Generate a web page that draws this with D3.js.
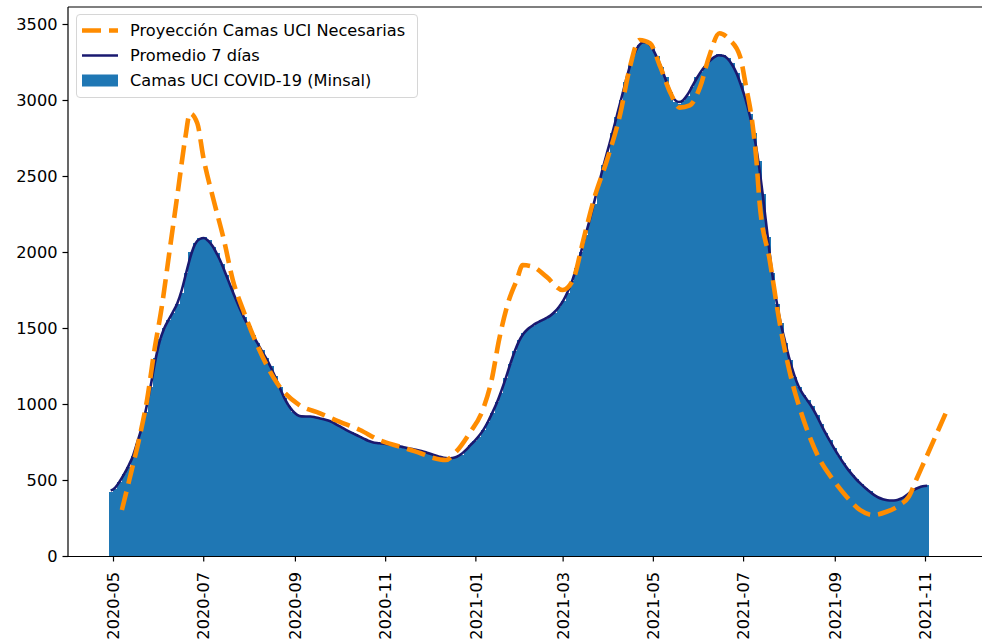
<!DOCTYPE html>
<html>
<head>
<meta charset="utf-8">
<script src="https://cdn.jsdelivr.net/npm/d3@7"></script>
<style>
  html, body { margin: 0; padding: 0; background: #fff; }
  svg { display: block; font-family: "DejaVu Sans", sans-serif; }
</style>
</head>
<body>
<svg id="chart" width="982" height="642"></svg>
<script>
// Camas UCI ocupadas (Minsal): one value per 3-day block, starting 2020-04-28
const barStart = "2020-04-28";
const barStepDays = 3;
const camasUCI = [
  420, 440, 490, 540, 585, 655, 735, 860, 950, 1110,
  1300, 1430, 1500, 1555, 1600, 1660, 1730, 1860, 2000, 2060,
  2095, 2100, 2080, 2035, 1995, 1920, 1850, 1775, 1700, 1630,
  1570, 1510, 1455, 1400, 1355, 1300, 1250, 1185, 1110, 1040,
  990, 950, 925, 912, 918, 922, 912, 905, 900, 894,
  880, 862, 845, 830, 815, 800, 788, 772, 757, 746,
  743, 741, 737, 733, 728, 722, 716, 709, 703, 698,
  693, 682, 673, 662, 652, 646, 640, 643, 652, 665,
  695, 730, 758, 785, 830, 880, 940, 1010, 1075, 1170,
  1260, 1350, 1420, 1470, 1495, 1515, 1535, 1550, 1560, 1580,
  1600, 1635, 1680, 1730, 1810, 1895, 2000, 2110, 2230, 2315,
  2460, 2570, 2660, 2780, 2890, 3000, 3120, 3230, 3320, 3365,
  3390, 3385, 3350, 3290, 3215, 3150, 3050, 2990, 2975, 2995,
  3027, 3085, 3150, 3185, 3225, 3262, 3285, 3300, 3298, 3275,
  3245, 3180, 3110, 3010, 2910, 2780, 2600, 2380, 2100, 1860,
  1660, 1530, 1400, 1290, 1180, 1110, 1060, 1025, 985, 930,
  870, 810, 760, 710, 660, 615, 575, 535, 505, 475,
  448, 425, 400, 382, 372, 366, 363, 365, 372, 392,
  415, 440, 450, 456, 469
];

// Proyección de camas UCI necesarias
const proyFechas = [
  "2020-05-07", "2020-05-12", "2020-05-19", "2020-05-24", "2020-05-29", "2020-06-03",
  "2020-06-08", "2020-06-14", "2020-06-19", "2020-06-22", "2020-06-27", "2020-07-01",
  "2020-07-08", "2020-07-15", "2020-07-21", "2020-07-28", "2020-08-06", "2020-08-20",
  "2020-09-04", "2020-09-18", "2020-10-01", "2020-10-15", "2020-10-28", "2020-11-11",
  "2020-11-25", "2020-12-03", "2020-12-12", "2020-12-19", "2020-12-28", "2021-01-06",
  "2021-01-12", "2021-01-17", "2021-01-23", "2021-01-29", "2021-02-02", "2021-02-09",
  "2021-02-18", "2021-03-01", "2021-03-08", "2021-03-15", "2021-03-22", "2021-03-31",
  "2021-04-09", "2021-04-15", "2021-04-22", "2021-04-29", "2021-05-06", "2021-05-13",
  "2021-05-19", "2021-05-26", "2021-06-02", "2021-06-08", "2021-06-15", "2021-06-22",
  "2021-06-29", "2021-07-03", "2021-07-07", "2021-07-10", "2021-07-12", "2021-07-19",
  "2021-07-26", "2021-08-04", "2021-08-08", "2021-08-15", "2021-08-22", "2021-08-31",
  "2021-09-09", "2021-09-18", "2021-09-27", "2021-10-06", "2021-10-15", "2021-10-21",
  "2021-10-26", "2021-11-02", "2021-11-08", "2021-11-15"
];
const proyValores = [
  303, 500, 785, 1026, 1355, 1640,
  1990, 2408, 2759, 2912, 2847, 2627,
  2342, 2079, 1816, 1618, 1399, 1136,
  993, 939, 884, 829, 763, 719,
  676, 647, 632, 686, 807, 961,
  1158, 1421, 1662, 1816, 1914, 1903,
  1838, 1750, 1816, 2079, 2342, 2605,
  2912, 3197, 3395, 3373, 3219, 3044,
  2950, 2965, 3088, 3285, 3439, 3395,
  3285, 3088, 2868, 2605, 2342, 1947,
  1520, 1114, 982, 785, 632, 500,
  390, 303, 270, 291, 336, 390,
  500, 653, 785, 939
];

const yTicks = [0, 500, 1000, 1500, 2000, 2500, 3000, 3500];
const xTickStart = "2020-05-01", xTickEnd = "2021-11-01";
const seriesNames = ["Proyección Camas UCI Necesarias", "Promedio 7 días", "Camas UCI COVID-19 (Minsal)"];

const C_BAR = "#1f77b4", C_AVG = "#191970", C_PROY = "#ff8c00";
const FONT = 16.2;

const svg = d3.select("#chart");
const plot = { left: 68, top: 7, right: 1000, bottom: 556 };

const parse = d3.utcParse("%Y-%m-%d");
const x = d3.scaleUtc()
  .domain([parse(xTickStart), parse(xTickEnd)])
  .range([113, 925]);
const y = d3.scaleLinear().domain([0, 3500]).range([plot.bottom, 24]);

const t0 = parse(barStart);
const bars = camasUCI.map((v, i) => {
  const d0 = d3.utcDay.offset(t0, i * barStepDays);
  return { d0, d1: d3.utcDay.offset(d0, barStepDays), v };
});

// centered rolling mean of the block values
const avg = bars.map((b, i) => {
  const win = bars.slice(Math.max(0, i - 1), Math.min(bars.length, i + 2));
  return { t: new Date((+b.d0 + +b.d1) / 2), v: d3.mean(win, w => w.v) };
});

const proy = proyFechas.map((f, i) => ({ t: parse(f), v: proyValores[i] }));

// bars (slightly overlapped so neighbouring blocks read as one filled area)
svg.append("g").attr("shape-rendering", "crispEdges")
  .selectAll("rect").data(bars).join("rect")
  .attr("x", d => x(d.d0))
  .attr("width", (d, i) => x(d.d1) - x(d.d0) + (i < bars.length - 1 ? 1 : 0))
  .attr("y", d => y(d.v))
  .attr("height", d => y(0) - y(d.v))
  .attr("fill", C_BAR);

// 7-day average
svg.append("path").datum(avg)
  .attr("fill", "none").attr("stroke", C_AVG).attr("stroke-width", 2.6)
  .attr("stroke-linejoin", "round")
  .attr("d", d3.line().x(d => x(d.t)).y(d => y(d.v)).curve(d3.curveMonotoneX));

// projection
svg.append("path").datum(proy)
  .attr("fill", "none").attr("stroke", C_PROY).attr("stroke-width", 4.6)
  .attr("stroke-dasharray", "19 8")
  .attr("d", d3.line().x(d => x(d.t)).y(d => y(d.v)).curve(d3.curveMonotoneX));

// spines
svg.append("line").attr("x1", plot.left).attr("x2", plot.left)
  .attr("y1", plot.top).attr("y2", plot.bottom).attr("stroke", "#000").attr("stroke-width", 1.2);
svg.append("line").attr("x1", plot.left).attr("x2", plot.right)
  .attr("y1", plot.top).attr("y2", plot.top).attr("stroke", "#000").attr("stroke-width", 1.2);

// y axis
const yAxis = svg.append("g")
  .attr("transform", `translate(${plot.left},0)`)
  .call(d3.axisLeft(y).tickValues(yTicks).tickSize(5.5).tickPadding(5).tickFormat(d3.format("d")));
yAxis.select(".domain").remove();
yAxis.selectAll("line").attr("stroke", "#000").attr("stroke-width", 1.2);
yAxis.selectAll("text").attr("font-size", FONT).attr("fill", "#000")
  .attr("font-family", "DejaVu Sans, sans-serif");

// x axis
const monthTicks = d3.utcMonth.every(2).range(parse(xTickStart), d3.utcDay.offset(parse(xTickEnd), 1));
const xAxis = svg.append("g")
  .attr("transform", `translate(0,${plot.bottom})`)
  .call(d3.axisBottom(x).tickValues(monthTicks).tickSize(5.5).tickPadding(5)
    .tickFormat(d3.utcFormat("%Y-%m")));
xAxis.select(".domain").attr("d", `M${plot.left},0.5H${plot.right}`).attr("stroke", "#000").attr("stroke-width", 1.2);
xAxis.selectAll("line").attr("stroke", "#000").attr("stroke-width", 1.2);
xAxis.selectAll("text")
  .attr("font-size", FONT).attr("fill", "#000")
  .attr("font-family", "DejaVu Sans, sans-serif")
  .attr("text-anchor", "end")
  .attr("transform", "rotate(-90)")
  .attr("x", -16).attr("y", 0).attr("dy", "0.35em");

// legend
const lg = svg.append("g");
lg.append("rect").attr("x", 76.5).attr("y", 14.5).attr("width", 341).attr("height", 83)
  .attr("rx", 3.5).attr("fill", "#fff").attr("fill-opacity", 0.85)
  .attr("stroke", "#d6d6d6").attr("stroke-width", 1);
const rowY = [30.5, 55.5, 80.5];
lg.append("line").attr("x1", 82).attr("x2", 118).attr("y1", rowY[0]).attr("y2", rowY[0])
  .attr("stroke", C_PROY).attr("stroke-width", 4.6).attr("stroke-dasharray", "19 8");
lg.append("line").attr("x1", 82).attr("x2", 118).attr("y1", rowY[1]).attr("y2", rowY[1])
  .attr("stroke", C_AVG).attr("stroke-width", 2.6);
lg.append("rect").attr("x", 82).attr("y", rowY[2] - 6).attr("width", 36).attr("height", 12)
  .attr("fill", C_BAR);
lg.selectAll("text.lab").data(seriesNames).join("text").attr("class", "lab")
  .attr("x", 130).attr("y", (d, i) => rowY[i]).attr("dy", "0.35em")
  .attr("font-size", FONT).attr("fill", "#000").text(d => d);
</script>
</body>
</html>
